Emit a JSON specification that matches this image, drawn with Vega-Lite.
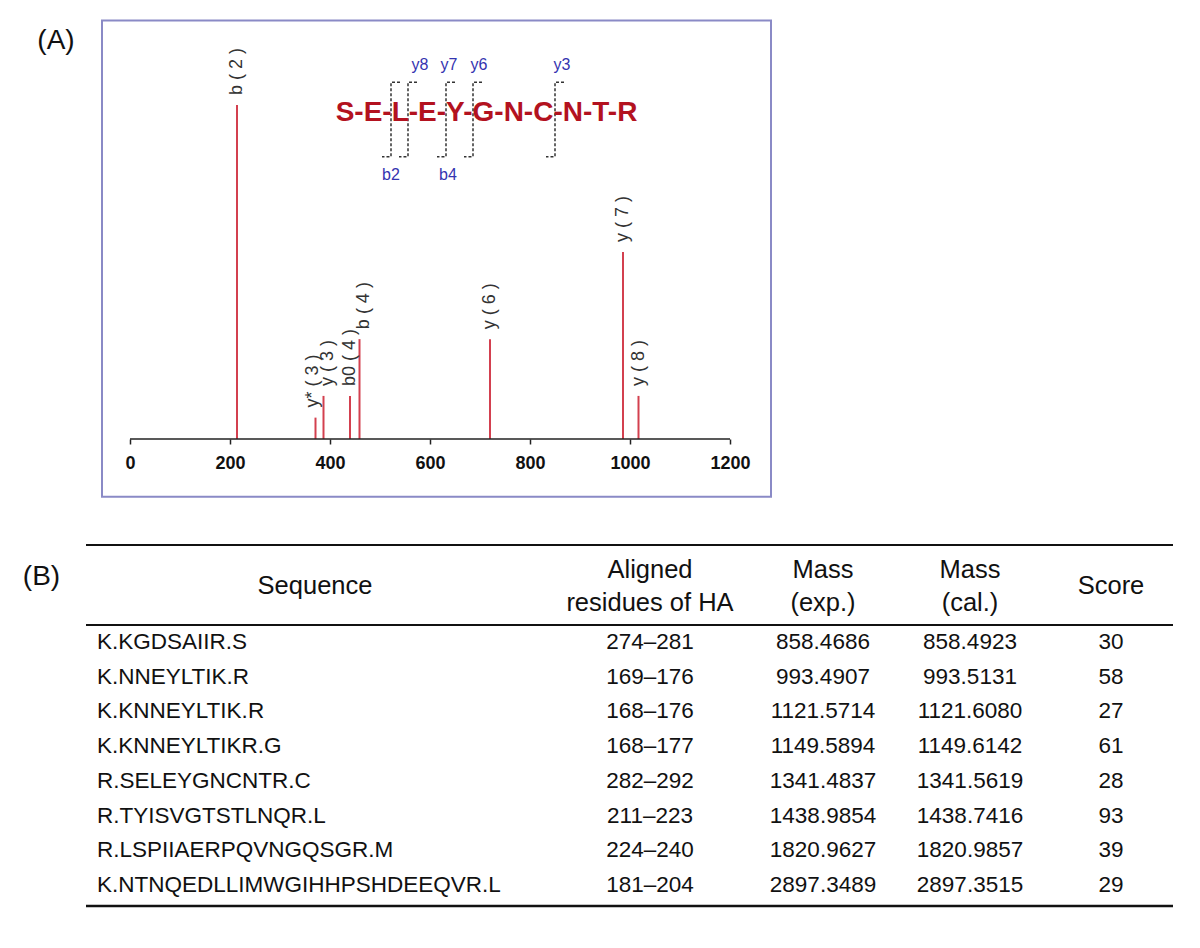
{
  "$schema": "https://vega.github.io/schema/vega-lite/v6.json",
  "width": 1200,
  "height": 948,
  "autosize": {"type": "none"},
  "padding": 0,
  "background": "white",
  "config": {"view": {"stroke": null}, "text": {"font": "Liberation Sans, Arial"}},
  "datasets": {
    "peaks": [
      {"ion": "b ( 2 )", "mz": 214, "intensity": 100},
      {"ion": "y* ( 3 )", "mz": 371, "intensity": 6.4},
      {"ion": "y ( 3 )", "mz": 387, "intensity": 12.9},
      {"ion": "b0 ( 4 )", "mz": 440, "intensity": 12.9},
      {"ion": "b ( 4 )", "mz": 459, "intensity": 29.9},
      {"ion": "y ( 6 )", "mz": 720, "intensity": 29.9},
      {"ion": "y ( 7 )", "mz": 986, "intensity": 56},
      {"ion": "y ( 8 )", "mz": 1017, "intensity": 12.9}
    ],
    "brackets": [
      {"cut": "E|L", "k": 1, "mz": 540, "level": 106.8},
      {"cut": "E|L", "k": 2, "mz": 522, "level": 106.8},
      {"cut": "E|L", "k": 3, "mz": 522, "level": 84.5},
      {"cut": "E|L", "k": 4, "mz": 504, "level": 84.5},
      {"cut": "L|E", "k": 1, "mz": 574, "level": 106.8},
      {"cut": "L|E", "k": 2, "mz": 556, "level": 106.8},
      {"cut": "L|E", "k": 3, "mz": 556, "level": 84.5},
      {"cut": "L|E", "k": 4, "mz": 538, "level": 84.5},
      {"cut": "E|Y", "k": 1, "mz": 650, "level": 106.8},
      {"cut": "E|Y", "k": 2, "mz": 632, "level": 106.8},
      {"cut": "E|Y", "k": 3, "mz": 632, "level": 84.5},
      {"cut": "E|Y", "k": 4, "mz": 614, "level": 84.5},
      {"cut": "Y|G", "k": 1, "mz": 704, "level": 106.8},
      {"cut": "Y|G", "k": 2, "mz": 686, "level": 106.8},
      {"cut": "Y|G", "k": 3, "mz": 686, "level": 84.5},
      {"cut": "Y|G", "k": 4, "mz": 668, "level": 84.5},
      {"cut": "C|N", "k": 1, "mz": 868, "level": 106.8},
      {"cut": "C|N", "k": 2, "mz": 850, "level": 106.8},
      {"cut": "C|N", "k": 3, "mz": 850, "level": 84.5},
      {"cut": "C|N", "k": 4, "mz": 832, "level": 84.5}
    ],
    "ions": [
      {"ion": "y8", "mz": 580, "level": 112},
      {"ion": "y7", "mz": 638, "level": 112},
      {"ion": "y6", "mz": 698, "level": 112},
      {"ion": "y3", "mz": 864, "level": 112},
      {"ion": "b2", "mz": 522, "level": 79},
      {"ion": "b4", "mz": 636, "level": 79}
    ],
    "peptide": [
      {"peptide": "S-E-L-E-Y-G-N-C-N-T-R", "mz": 713, "level": 97.5}
    ],
    "table": [
      {"row": 1, "sequence": "K.KGDSAIIR.S", "residues": "274–281", "mass_exp": "858.4686", "mass_cal": "858.4923", "score": 30},
      {"row": 2, "sequence": "K.NNEYLTIK.R", "residues": "169–176", "mass_exp": "993.4907", "mass_cal": "993.5131", "score": 58},
      {"row": 3, "sequence": "K.KNNEYLTIK.R", "residues": "168–176", "mass_exp": "1121.5714", "mass_cal": "1121.6080", "score": 27},
      {"row": 4, "sequence": "K.KNNEYLTIKR.G", "residues": "168–177", "mass_exp": "1149.5894", "mass_cal": "1149.6142", "score": 61},
      {"row": 5, "sequence": "R.SELEYGNCNTR.C", "residues": "282–292", "mass_exp": "1341.4837", "mass_cal": "1341.5619", "score": 28},
      {"row": 6, "sequence": "R.TYISVGTSTLNQR.L", "residues": "211–223", "mass_exp": "1438.9854", "mass_cal": "1438.7416", "score": 93},
      {"row": 7, "sequence": "R.LSPIIAERPQVNGQSGR.M", "residues": "224–240", "mass_exp": "1820.9627", "mass_cal": "1820.9857", "score": 39},
      {"row": 8, "sequence": "K.NTNQEDLLIMWGIHHPSHDEEQVR.L", "residues": "181–204", "mass_exp": "2897.3489", "mass_cal": "2897.3515", "score": 29}
    ]
  },
  "layer": [
    {
      "layer": [
        {
          "data": {"values": [{}]},
          "mark": {"type": "rect", "fillOpacity": 0, "stroke": "#8a8ac6", "strokeWidth": 2},
          "encoding": {
            "x": {"datum": -56, "type": "quantitative", "scale": {"domain": [-260, 2140], "nice": false, "zero": false},
              "axis": {"values": [0, 200, 400, 600, 800, 1000, 1200], "format": "d", "offset": -509, "domain": false, "grid": false, "title": null,
                "tickSize": 5, "tickWidth": 1.5, "tickColor": "#222", "labelFont": "Liberation Sans, Arial", "labelFontWeight": "bold",
                "labelFontSize": 18, "labelColor": "#111", "labelPadding": 10, "labelFlush": false, "labelOverlap": false}},
            "x2": {"datum": 1282},
            "y": {"datum": 125.3, "type": "quantitative", "scale": {"domain": [-152.4, 131.44], "nice": false, "zero": false}, "axis": null},
            "y2": {"datum": -17.3}
          }
        },
        {
          "data": {"name": "peaks"},
          "mark": {"type": "rule", "color": "#d3404f", "strokeWidth": 2},
          "encoding": {
            "x": {"field": "mz", "type": "quantitative"},
            "y": {"field": "intensity", "type": "quantitative"},
            "y2": {"datum": 0}
          }
        },
        {
          "data": {"values": [{}]},
          "mark": {"type": "rule", "color": "#222", "strokeWidth": 1.5},
          "encoding": {
            "x": {"datum": 0, "type": "quantitative"},
            "x2": {"datum": 1200},
            "y": {"datum": 0, "type": "quantitative"}
          }
        },
        {
          "data": {"name": "peaks"},
          "transform": [{"filter": "datum.ion !== 'y* ( 3 )' && datum.ion !== 'y ( 3 )' && datum.ion !== 'b ( 4 )'"}],
          "mark": {"type": "text", "angle": 270, "align": "left", "baseline": "middle", "dx": 10, "fontSize": 18, "color": "#333"},
          "encoding": {
            "x": {"field": "mz", "type": "quantitative"},
            "y": {"field": "intensity", "type": "quantitative"},
            "text": {"field": "ion"}
          }
        },
        {
          "data": {"name": "peaks"},
          "transform": [{"filter": "datum.ion === 'y* ( 3 )'"}],
          "mark": {"type": "text", "angle": 270, "align": "left", "baseline": "middle", "dx": 10, "dy": -3, "fontSize": 18, "color": "#333"},
          "encoding": {
            "x": {"field": "mz", "type": "quantitative"},
            "y": {"field": "intensity", "type": "quantitative"},
            "text": {"field": "ion"}
          }
        },
        {
          "data": {"name": "peaks"},
          "transform": [{"filter": "datum.ion === 'y ( 3 )' || datum.ion === 'b ( 4 )'"}],
          "mark": {"type": "text", "angle": 270, "align": "left", "baseline": "middle", "dx": 10, "dy": 4, "fontSize": 18, "color": "#333"},
          "encoding": {
            "x": {"field": "mz", "type": "quantitative"},
            "y": {"field": "intensity", "type": "quantitative"},
            "text": {"field": "ion"}
          }
        },
        {
          "data": {"name": "brackets"},
          "mark": {"type": "line", "color": "#333", "strokeWidth": 1.5, "strokeDash": [3, 2]},
          "encoding": {
            "x": {"field": "mz", "type": "quantitative"},
            "y": {"field": "level", "type": "quantitative"},
            "detail": {"field": "cut"},
            "order": {"field": "k"}
          }
        },
        {
          "data": {"name": "peptide"},
          "mark": {"type": "text", "align": "center", "baseline": "middle", "fontSize": 28, "fontWeight": "bold", "color": "#b3121f"},
          "encoding": {
            "x": {"field": "mz", "type": "quantitative"},
            "y": {"field": "level", "type": "quantitative"},
            "text": {"field": "peptide"}
          }
        },
        {
          "data": {"name": "ions"},
          "mark": {"type": "text", "align": "center", "baseline": "middle", "fontSize": 16, "color": "#3434b0"},
          "encoding": {
            "x": {"field": "mz", "type": "quantitative"},
            "y": {"field": "level", "type": "quantitative"},
            "text": {"field": "ion"}
          }
        },
        {
          "data": {"values": [{}]},
          "mark": {"type": "text", "align": "center", "baseline": "middle", "fontSize": 28, "color": "#111", "text": "(A)"},
          "encoding": {
            "x": {"datum": -148, "type": "quantitative"},
            "y": {"datum": 119.2, "type": "quantitative"}
          }
        }
      ]
    },
    {
      "layer": [
        {
          "data": {"values": [{}]},
          "mark": {"type": "rule", "color": "#111", "strokeWidth": 2},
          "encoding": {
            "x": {"datum": 86, "type": "quantitative", "scale": {"domain": [0, 1200], "nice": false, "zero": false}, "axis": null},
            "x2": {"datum": 1173},
            "y": {"datum": -1.794, "type": "quantitative", "scale": {"domain": [-17.494, 9.815], "nice": false, "zero": false, "reverse": true}, "axis": null}
          }
        },
        {
          "data": {"values": [{}]},
          "mark": {"type": "rule", "color": "#111", "strokeWidth": 2},
          "encoding": {
            "x": {"datum": 86, "type": "quantitative"},
            "x2": {"datum": 1173},
            "y": {"datum": 0.51, "type": "quantitative"}
          }
        },
        {
          "data": {"values": [{}]},
          "mark": {"type": "rule", "color": "#111", "strokeWidth": 2.5},
          "encoding": {
            "x": {"datum": 86, "type": "quantitative"},
            "x2": {"datum": 1173},
            "y": {"datum": 8.605, "type": "quantitative"}
          }
        },
        {
          "data": {"values": [{}]},
          "mark": {"type": "text", "align": "center", "baseline": "middle", "fontSize": 28, "color": "#111", "text": "(B)"},
          "encoding": {"x": {"datum": 41.5, "type": "quantitative"}, "y": {"datum": -0.872, "type": "quantitative"}}
        },
        {
          "data": {"values": [{}]},
          "mark": {"type": "text", "align": "center", "baseline": "middle", "fontSize": 25.5, "color": "#111", "text": "Sequence"},
          "encoding": {"x": {"datum": 315, "type": "quantitative"}, "y": {"datum": -0.613, "type": "quantitative"}}
        },
        {
          "data": {"values": [{}]},
          "mark": {"type": "text", "align": "center", "baseline": "middle", "fontSize": 25.5, "lineHeight": 33, "color": "#111", "text": ["Aligned", "residues of HA"]},
          "encoding": {"x": {"datum": 650, "type": "quantitative"}, "y": {"datum": -1.074, "type": "quantitative"}}
        },
        {
          "data": {"values": [{}]},
          "mark": {"type": "text", "align": "center", "baseline": "middle", "fontSize": 25.5, "lineHeight": 33, "color": "#111", "text": ["Mass", "(exp.)"]},
          "encoding": {"x": {"datum": 823, "type": "quantitative"}, "y": {"datum": -1.074, "type": "quantitative"}}
        },
        {
          "data": {"values": [{}]},
          "mark": {"type": "text", "align": "center", "baseline": "middle", "fontSize": 25.5, "lineHeight": 33, "color": "#111", "text": ["Mass", "(cal.)"]},
          "encoding": {"x": {"datum": 970, "type": "quantitative"}, "y": {"datum": -1.074, "type": "quantitative"}}
        },
        {
          "data": {"values": [{}]},
          "mark": {"type": "text", "align": "center", "baseline": "middle", "fontSize": 25.5, "color": "#111", "text": "Score"},
          "encoding": {"x": {"datum": 1111, "type": "quantitative"}, "y": {"datum": -0.613, "type": "quantitative"}}
        },
        {
          "data": {"name": "table"},
          "mark": {"type": "text", "align": "left", "baseline": "middle", "fontSize": 22.5, "color": "#111"},
          "encoding": {"x": {"datum": 97, "type": "quantitative"}, "y": {"field": "row", "type": "quantitative"}, "text": {"field": "sequence"}}
        },
        {
          "data": {"name": "table"},
          "mark": {"type": "text", "align": "center", "baseline": "middle", "fontSize": 22.5, "color": "#111"},
          "encoding": {"x": {"datum": 650, "type": "quantitative"}, "y": {"field": "row", "type": "quantitative"}, "text": {"field": "residues"}}
        },
        {
          "data": {"name": "table"},
          "mark": {"type": "text", "align": "center", "baseline": "middle", "fontSize": 22.5, "color": "#111"},
          "encoding": {"x": {"datum": 823, "type": "quantitative"}, "y": {"field": "row", "type": "quantitative"}, "text": {"field": "mass_exp"}}
        },
        {
          "data": {"name": "table"},
          "mark": {"type": "text", "align": "center", "baseline": "middle", "fontSize": 22.5, "color": "#111"},
          "encoding": {"x": {"datum": 970, "type": "quantitative"}, "y": {"field": "row", "type": "quantitative"}, "text": {"field": "mass_cal"}}
        },
        {
          "data": {"name": "table"},
          "mark": {"type": "text", "align": "center", "baseline": "middle", "fontSize": 22.5, "color": "#111"},
          "encoding": {"x": {"datum": 1111, "type": "quantitative"}, "y": {"field": "row", "type": "quantitative"}, "text": {"field": "score"}}
        }
      ]
    }
  ],
  "resolve": {"scale": {"x": "independent", "y": "independent"}, "axis": {"x": "independent", "y": "independent"}}
}
